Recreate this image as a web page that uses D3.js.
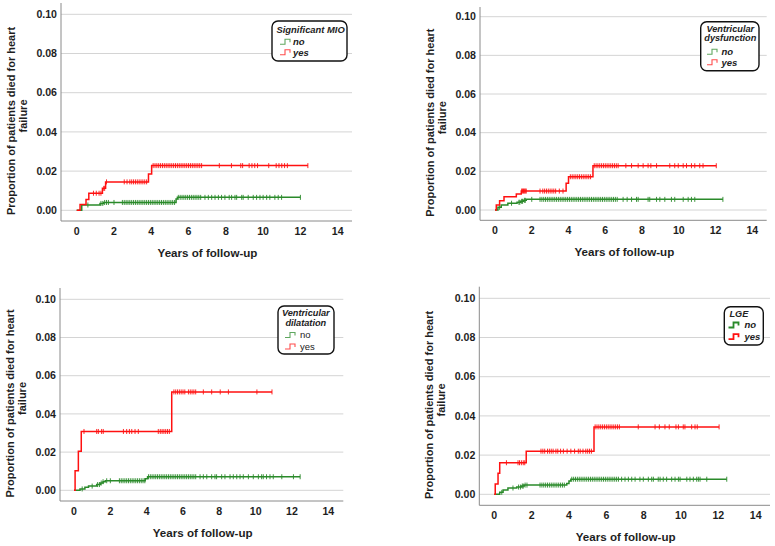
<!DOCTYPE html>
<html><head><meta charset="utf-8">
<script src="https://cdn.jsdelivr.net/npm/d3@7"></script>
<style>
html,body{margin:0;padding:0;background:#fff;}
svg{display:block;font-family:"Liberation Sans",Arial,sans-serif;}
</style></head>
<body><svg id="c" width="775" height="546"></svg>
<script>
// ---------------- DATA ----------------
const xTicks = [0, 2, 4, 6, 8, 10, 12, 14];
const yTicks = [0, 0.02, 0.04, 0.06, 0.08, 0.10];
const yTickLabels = ["0.00", "0.02", "0.04", "0.06", "0.08", "0.10"];
const xTitle = "Years of follow-up";
const yTitleLines = ["Proportion of patients died for heart", "failure"];
const groupLabels = ["no", "yes"];

// Panel 1: Significant MIO
const mioNoSteps = [[0,0],[0.27,0.0027],[1.25,0.0035],[1.45,0.004],[5.33,0.0058],[5.4,0.0066]];
const mioNoEnd = 12.0;
const mioNoCens = [0.6,1.3,1.4,1.5,1.6,1.7,2.0,2.45,2.55,2.65,2.75,2.85,2.95,3.05,3.15,3.25,3.35,3.45,3.55,3.65,3.75,3.85,3.95,4.05,4.15,4.25,4.35,4.45,4.55,4.65,4.75,4.85,4.95,5.05,5.15,5.25,5.45,5.55,5.65,5.75,5.85,5.95,6.05,6.15,6.25,6.35,6.45,6.55,6.65,6.88,7.06,7.24,7.42,7.6,7.77,7.95,8.18,8.31,8.49,8.58,8.85,8.93,9.2,9.47,9.65,9.83,10.0,10.19,10.36,10.63,10.81,10.99,12.0];
const mioYesSteps = [[0,0],[0.18,0.003],[0.5,0.0055],[0.65,0.0087],[1.38,0.0112],[1.55,0.0145],[3.85,0.0185],[4.02,0.0228]];
const mioYesEnd = 12.4;
const mioYesCens = [0.9,1.05,1.2,1.3,1.45,1.5,1.6,2.55,2.7,2.85,2.95,3.05,3.15,3.25,3.35,3.45,3.55,3.65,3.75,4.1,4.2,4.3,4.4,4.5,4.6,4.7,4.8,4.9,5.0,5.1,5.2,5.3,5.4,5.5,5.6,5.7,5.8,5.9,6.0,6.1,6.2,6.3,6.4,6.5,6.6,6.7,7.65,8.3,8.8,8.9,9.25,9.4,9.55,9.7,10.3,10.7,10.85,11.0,11.15,11.3,12.4];

// Panel 2: Ventricular dysfunction
const dysNoSteps = [[0,0],[0.16,0.0014],[0.34,0.0026],[0.7,0.0035],[1.2,0.004],[1.4,0.0045],[1.55,0.005],[1.7,0.0055]];
const dysNoEnd = 12.4;
const dysNoCens = [0.25,0.9,1.3,1.35,1.45,1.5,1.6,1.65,2.0,2.45,2.55,2.65,2.75,2.85,2.95,3.05,3.15,3.25,3.35,3.45,3.55,3.65,3.75,3.85,3.95,4.05,4.15,4.25,4.35,4.45,4.55,4.65,4.75,4.85,4.95,5.05,5.15,5.25,5.35,5.45,5.55,5.65,5.75,5.85,5.95,6.05,6.15,6.25,6.35,6.45,6.55,6.65,6.97,7.19,7.43,7.7,7.79,8.33,8.42,8.79,8.97,9.24,9.6,9.78,10.24,10.51,10.69,10.87,12.4];
const dysYesSteps = [[0,0],[0.07,0.0026],[0.25,0.0048],[0.49,0.0069],[1.16,0.0083],[1.43,0.0098],[3.87,0.0138],[4.0,0.0172],[5.33,0.0229]];
const dysYesEnd = 12.04;
const dysYesCens = [1.45,1.5,1.55,1.6,1.65,1.7,2.45,2.6,2.7,2.8,2.9,3.0,3.1,3.2,3.3,3.5,3.7,4.1,4.2,4.3,4.4,4.5,4.6,4.7,4.8,4.9,5.0,5.1,5.2,5.4,5.5,5.6,5.7,5.8,5.9,6.0,6.1,6.2,6.3,6.4,6.5,6.6,6.7,7.12,7.43,7.79,8.06,8.33,8.48,8.79,9.51,9.78,9.97,10.24,10.42,10.69,10.87,11.14,11.32,12.04];

// Panel 3: Ventricular dilatation
const dilNoSteps = [[0,0],[0.33,0.0007],[0.6,0.0016],[0.8,0.0022],[1.25,0.003],[1.45,0.0038],[1.6,0.0045],[1.72,0.005],[3.92,0.006],[4.05,0.0071]];
const dilNoEnd = 12.45;
const dilNoCens = [0.45,1.0,1.3,1.4,1.5,1.6,1.8,2.0,2.5,2.6,2.7,2.8,2.9,3.0,3.1,3.2,3.3,3.4,3.5,3.6,3.7,3.8,3.9,4.1,4.2,4.3,4.4,4.5,4.6,4.7,4.8,4.9,5.0,5.1,5.2,5.3,5.4,5.5,5.6,5.7,5.8,5.9,6.0,6.1,6.2,6.3,6.4,6.5,6.6,6.7,6.94,7.12,7.31,7.58,7.76,7.85,8.13,8.31,8.59,8.77,8.96,9.14,9.32,9.6,9.87,10.15,10.33,10.42,10.6,10.79,10.97,11.44,12.08,12.45];
const dilYesSteps = [[0,0],[0.06,0.0102],[0.24,0.0205],[0.4,0.0308],[5.38,0.0515]];
const dilYesEnd = 10.9;
const dilYesCens = [0.55,1.25,1.34,1.52,1.61,2.72,2.9,3.05,3.18,3.36,3.54,4.64,4.75,4.85,4.95,5.05,5.15,5.25,5.5,5.6,5.7,5.8,5.9,6.0,6.1,6.3,6.4,6.5,6.6,6.7,7.12,7.58,8.05,8.5,10.07,10.9];

// Panel 4: LGE
const lgeNoSteps = [[0,0],[0.29,0.001],[0.47,0.0022],[0.73,0.0032],[1.2,0.0037],[1.45,0.0042],[1.6,0.0047],[3.88,0.0055],[4.0,0.0068],[4.1,0.0077]];
const lgeNoEnd = 12.45;
const lgeNoCens = [0.4,1.0,1.3,1.4,1.5,1.55,1.65,1.75,2.45,2.55,2.65,2.75,2.85,2.95,3.05,3.15,3.25,3.35,3.45,3.55,3.65,3.75,4.15,4.25,4.35,4.45,4.55,4.65,4.75,4.85,4.95,5.05,5.15,5.25,5.35,5.45,5.55,5.65,5.75,5.85,5.95,6.05,6.15,6.25,6.35,6.45,6.55,6.65,6.82,7.0,7.18,7.36,7.54,7.8,7.98,8.25,8.43,8.52,8.78,8.88,9.05,9.23,9.5,9.68,9.86,9.95,10.31,10.48,10.66,10.84,10.93,11.02,11.38,12.45];
const lgeYesSteps = [[0,0],[0.05,0.0052],[0.2,0.0107],[0.29,0.0161],[1.71,0.022],[5.34,0.0344]];
const lgeYesEnd = 12.04;
const lgeYesCens = [0.65,1.27,1.35,1.45,1.55,1.63,2.5,2.6,2.7,2.85,2.95,3.05,3.15,3.3,3.4,3.55,3.7,3.9,4.1,4.3,4.5,4.6,4.75,4.9,5.0,5.1,5.2,5.4,5.5,5.6,5.7,5.8,5.9,6.0,6.1,6.2,6.3,6.4,6.5,6.6,6.7,7.71,8.61,8.84,9.14,9.37,9.73,9.86,10.12,10.21,10.57,10.75,10.87,12.04];

const legendTitles = [["Significant MIO"], ["Ventricular", "dysfunction"], ["Ventricular", "dilatation"], ["LGE"]];

// ---------------- LAYOUT ----------------
const colors = { no: "#2a8a2a", yes: "#ff1010" };

const panels = [
  { frame:[61,3,352,221], x0:76.7, x14:337.7, y0:210.3, y10:14.3,
    no:{steps:mioNoSteps,end:mioNoEnd,cens:mioNoCens}, yes:{steps:mioYesSteps,end:mioYesEnd,cens:mioYesCens},
    legend:{box:[272,21,347,61], title:legendTitles[0], titleX:276.5, titleAnchor:"start", titleY:[29.5], rowY:[41.7,52.3], iconX:280, textX:293, italicLabels:true, boldLabels:true, iconW:1.1, titleSize:9.4} },
  { frame:[480,7,766.7,220.3], x0:495, x14:752.3, y0:210, y10:16.7,
    no:{steps:dysNoSteps,end:dysNoEnd,cens:dysNoCens}, yes:{steps:dysYesSteps,end:dysYesEnd,cens:dysYesCens},
    legend:{box:[700.7,21.7,759,70.7], title:legendTitles[1], titleX:730.3, titleAnchor:"middle", titleY:[29,37.8], rowY:[51.7,62.3], iconX:707, textX:721.5, italicLabels:true, boldLabels:true, iconW:1.1, titleSize:9.2} },
  { frame:[60,288,343.3,501], x0:74, x14:328.3, y0:490.3, y10:299.3,
    no:{steps:dilNoSteps,end:dilNoEnd,cens:dilNoCens}, yes:{steps:dilYesSteps,end:dilYesEnd,cens:dilYesCens},
    legend:{box:[278,306,334,354], title:legendTitles[2], titleX:305.8, titleAnchor:"middle", titleY:[312.8,322.3], rowY:[335,346.5], iconX:285, textX:300, italicLabels:false, boldLabels:false, iconW:1.1, titleSize:9.2} },
  { frame:[479.3,286.7,770,505.3], x0:494.3, x14:755.7, y0:494.3, y10:298.3,
    no:{steps:lgeNoSteps,end:lgeNoEnd,cens:lgeNoCens}, yes:{steps:lgeYesSteps,end:lgeYesEnd,cens:lgeYesCens},
    legend:{box:[724.3,306.7,763.3,345], title:legendTitles[3], titleX:729.5, titleAnchor:"start", titleY:[313.5], rowY:[325,336.7], iconX:728.5, textX:744.5, italicLabels:true, boldLabels:true, iconW:1.8, titleSize:9.2} }
];

const svg = d3.select("#c");

panels.forEach(p => {
  const [L, T, R, B] = p.frame;
  const x = d3.scaleLinear().domain([0, 14]).range([p.x0, p.x14]);
  const y = d3.scaleLinear().domain([0, 0.10]).range([p.y0, p.y10]);
  const g = svg.append("g");

  g.selectAll("line.grid").data(yTicks).join("line")
    .attr("x1", L).attr("x2", R).attr("y1", d => y(d)).attr("y2", d => y(d))
    .attr("stroke", "#d4d4d4").attr("stroke-width", 1);

  g.append("line").attr("x1", L).attr("x2", L).attr("y1", T).attr("y2", B).attr("stroke", "#8a8a8a").attr("stroke-width", 1);
  g.append("line").attr("x1", L).attr("x2", R).attr("y1", B).attr("y2", B).attr("stroke", "#8a8a8a").attr("stroke-width", 1);

  g.selectAll("text.yt").data(yTicks).join("text")
    .attr("x", L - 4).attr("y", d => y(d)).attr("dy", "0.35em")
    .attr("text-anchor", "end").attr("font-size", 10.6).attr("font-weight", "bold").attr("fill", "#1e1e1e")
    .text((d, i) => yTickLabels[i]);

  g.selectAll("text.xt").data(xTicks).join("text")
    .attr("x", d => x(d)).attr("y", B + 10).attr("dy", "0.35em")
    .attr("text-anchor", "middle").attr("font-size", 10.6).attr("font-weight", "bold").attr("fill", "#1e1e1e")
    .text(d => d);

  g.append("text").attr("x", (L + R) / 2 + 1).attr("y", B + 32).attr("dy", "0.35em")
    .attr("text-anchor", "middle").attr("font-size", 11.6).attr("font-weight", "bold").attr("fill", "#1e1e1e")
    .text(xTitle);

  const midY = (T + B) / 2;
  const yt = g.append("text").attr("transform", `translate(${L - 50},${midY + 9}) rotate(-90)`)
    .attr("text-anchor", "middle").attr("font-size", 11).attr("font-weight", "bold").attr("fill", "#1e1e1e");
  yt.append("tspan").attr("x", 0).attr("dy", "0.35em").text(yTitleLines[0]);
  yt.append("tspan").attr("x", 5).attr("dy", "1.1em").text(yTitleLines[1]);

  const line = d3.line().x(d => x(d[0])).y(d => y(d[1])).curve(d3.curveStepAfter);
  ["no", "yes"].forEach(k => {
    const s = p[k];
    const pts = s.steps.concat([[s.end, s.steps[s.steps.length - 1][1]]]);
    g.append("path").attr("d", line(pts)).attr("fill", "none")
      .attr("stroke", colors[k]).attr("stroke-width", 1.5);
    const bis = d3.bisector(d => d[0]).right;
    const valAt = t => s.steps[Math.max(0, bis(s.steps, t) - 1)][1];
    g.selectAll(null).data(s.cens).join("line")
      .attr("x1", d => x(d)).attr("x2", d => x(d))
      .attr("y1", d => y(valAt(d)) - 2.5).attr("y2", d => y(valAt(d)) + 2.5)
      .attr("stroke", colors[k]).attr("stroke-width", 1).attr("opacity", 0.9);
  });

  const lg = p.legend;
  const [bx1, by1, bx2, by2] = lg.box;
  g.append("rect").attr("x", bx1).attr("y", by1).attr("width", bx2 - bx1).attr("height", by2 - by1)
    .attr("rx", 6).attr("ry", 6).attr("fill", "#fff").attr("stroke", "#111").attr("stroke-width", 1.4);
  lg.title.forEach((t, i) => {
    g.append("text").attr("x", lg.titleX).attr("y", lg.titleY[i]).attr("dy", "0.35em")
      .attr("text-anchor", lg.titleAnchor).attr("font-size", lg.titleSize).attr("font-weight", "bold")
      .attr("font-style", "italic").attr("fill", "#222").text(t);
  });
  ["no", "yes"].forEach((k, i) => {
    const ry = lg.rowY[i];
    const ix = lg.iconX;
    g.append("path")
      .attr("d", `M${ix},${ry + 2.5}H${ix + 5}V${ry - 2.5}H${ix + 10}V${ry + 0.5}`)
      .attr("fill", "none").attr("stroke", colors[k]).attr("stroke-width", lg.iconW).attr("opacity", lg.iconW > 1.5 ? 1 : 0.75);
    g.append("text").attr("x", lg.textX).attr("y", ry).attr("dy", "0.35em")
      .attr("font-size", 9.5).attr("font-weight", lg.boldLabels ? "bold" : "normal")
      .attr("font-style", lg.italicLabels ? "italic" : "normal").attr("fill", "#222")
      .text(groupLabels[i]);
  });
});
</script>
</body></html>
